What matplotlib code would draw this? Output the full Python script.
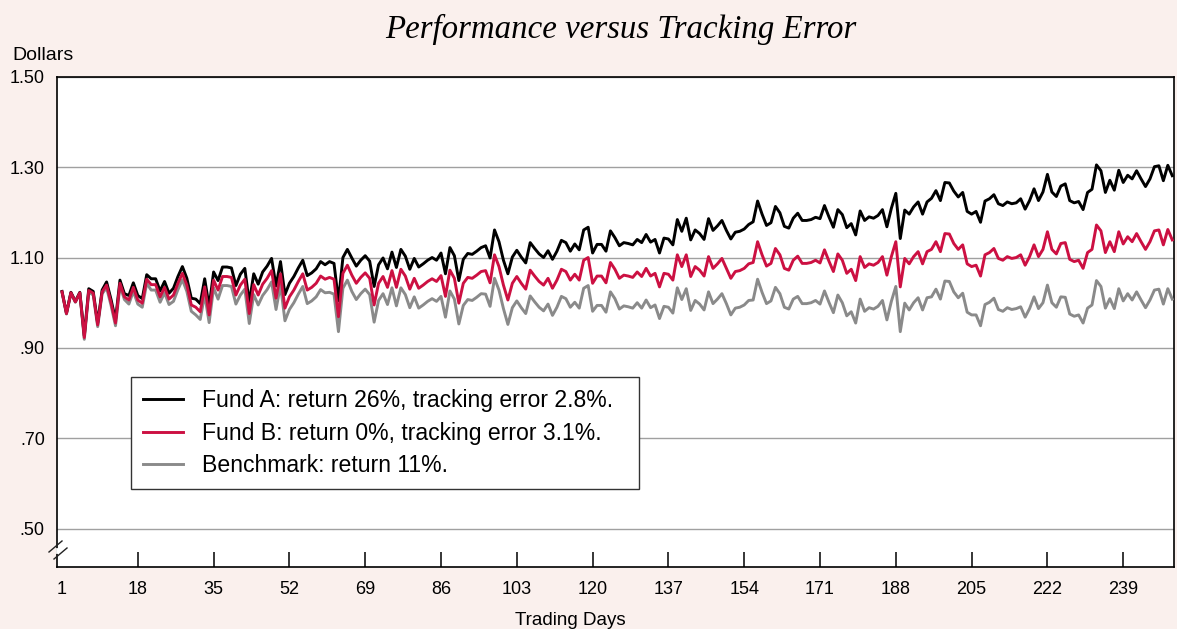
# plot.py - performance versus tracking error

import matplotlib
matplotlib.use('Agg')
import matplotlib.pyplot as plt
from matplotlib.lines import Line2D

days = list(range(1, 251))

fund_a = [
1.025, 0.977, 1.023, 1.003, 1.023, 0.927, 1.031, 1.025, 0.955, 1.028,
1.046, 1.007, 0.962, 1.050, 1.020, 1.016, 1.044, 1.016, 1.009, 1.062,
1.053, 1.053, 1.026, 1.047, 1.021, 1.032, 1.058, 1.080, 1.054, 1.010,
1.008, 0.998, 1.053, 0.991, 1.068, 1.049, 1.079, 1.079, 1.077, 1.038,
1.063, 1.076, 1.000, 1.064, 1.041, 1.068, 1.081, 1.098, 1.037, 1.091,
1.018, 1.043, 1.058, 1.077, 1.094, 1.060, 1.066, 1.075, 1.091, 1.084,
1.091, 1.087, 1.004, 1.100, 1.118, 1.099, 1.081, 1.094, 1.104, 1.092,
1.036, 1.084, 1.099, 1.075, 1.112, 1.078, 1.118, 1.103, 1.074, 1.098,
1.079, 1.086, 1.094, 1.100, 1.094, 1.110, 1.064, 1.122, 1.104, 1.049,
1.096, 1.109, 1.107, 1.114, 1.122, 1.126, 1.099, 1.161, 1.135, 1.094,
1.064, 1.101, 1.116, 1.101, 1.088, 1.133, 1.120, 1.108, 1.100, 1.115,
1.096, 1.114, 1.138, 1.133, 1.114, 1.130, 1.117, 1.161, 1.167, 1.110,
1.129, 1.129, 1.114, 1.159, 1.144, 1.126, 1.133, 1.131, 1.128, 1.140,
1.133, 1.151, 1.134, 1.140, 1.110, 1.143, 1.141, 1.128, 1.184, 1.158,
1.187, 1.139, 1.161, 1.153, 1.140, 1.186, 1.160, 1.170, 1.182, 1.160,
1.141, 1.156, 1.158, 1.163, 1.173, 1.179, 1.225, 1.196, 1.171, 1.177,
1.213, 1.199, 1.169, 1.165, 1.187, 1.198, 1.182, 1.182, 1.184, 1.189,
1.186, 1.215, 1.190, 1.167, 1.206, 1.195, 1.166, 1.175, 1.150, 1.203,
1.182, 1.190, 1.187, 1.193, 1.206, 1.168, 1.209, 1.242, 1.142, 1.205,
1.196, 1.212, 1.223, 1.196, 1.223, 1.231, 1.248, 1.226, 1.266, 1.265,
1.247, 1.234, 1.244, 1.202, 1.196, 1.202, 1.178, 1.225, 1.230, 1.239,
1.219, 1.215, 1.223, 1.219, 1.221, 1.230, 1.207, 1.226, 1.252, 1.226,
1.245, 1.284, 1.245, 1.235, 1.258, 1.263, 1.226, 1.221, 1.224, 1.206,
1.244, 1.251, 1.305, 1.292, 1.244, 1.271, 1.249, 1.293, 1.266, 1.282,
1.274, 1.292, 1.274, 1.257, 1.274, 1.301, 1.303, 1.270, 1.304, 1.281]

fund_b = [
1.024, 0.976, 1.022, 1.002, 1.022, 0.923, 1.027, 1.021, 0.951, 1.024,
1.039, 1.000, 0.955, 1.043, 1.013, 1.006, 1.034, 1.006, 0.999, 1.052,
1.040, 1.040, 1.013, 1.034, 1.008, 1.017, 1.043, 1.065, 1.039, 0.995,
0.990, 0.980, 1.035, 0.973, 1.050, 1.028, 1.058, 1.058, 1.056, 1.017,
1.039, 1.052, 0.976, 1.040, 1.017, 1.041, 1.054, 1.071, 1.010, 1.064,
0.988, 1.013, 1.028, 1.047, 1.064, 1.028, 1.034, 1.043, 1.059, 1.052,
1.056, 1.052, 0.969, 1.065, 1.083, 1.061, 1.043, 1.056, 1.066, 1.054,
0.995, 1.043, 1.058, 1.034, 1.071, 1.034, 1.074, 1.059, 1.030, 1.054,
1.032, 1.039, 1.047, 1.053, 1.047, 1.060, 1.014, 1.072, 1.054, 0.999,
1.043, 1.056, 1.054, 1.061, 1.069, 1.071, 1.044, 1.106, 1.080, 1.039,
1.006, 1.043, 1.058, 1.043, 1.030, 1.072, 1.059, 1.047, 1.039, 1.054,
1.032, 1.050, 1.074, 1.069, 1.050, 1.063, 1.050, 1.094, 1.100, 1.043,
1.059, 1.059, 1.044, 1.089, 1.074, 1.054, 1.061, 1.059, 1.056, 1.068,
1.058, 1.076, 1.059, 1.065, 1.035, 1.065, 1.063, 1.050, 1.106, 1.080,
1.106, 1.058, 1.080, 1.072, 1.059, 1.102, 1.076, 1.086, 1.098, 1.076,
1.054, 1.069, 1.071, 1.076, 1.086, 1.089, 1.135, 1.106, 1.081, 1.087,
1.120, 1.106, 1.076, 1.072, 1.094, 1.103, 1.087, 1.087, 1.089, 1.094,
1.088, 1.117, 1.092, 1.069, 1.108, 1.094, 1.065, 1.074, 1.049, 1.102,
1.078, 1.086, 1.083, 1.089, 1.102, 1.061, 1.102, 1.135, 1.035, 1.098,
1.086, 1.102, 1.113, 1.086, 1.113, 1.118, 1.135, 1.113, 1.153, 1.152,
1.131, 1.118, 1.128, 1.086, 1.080, 1.083, 1.059, 1.106, 1.111, 1.120,
1.098, 1.094, 1.102, 1.098, 1.100, 1.106, 1.083, 1.102, 1.128, 1.102,
1.118, 1.157, 1.118, 1.108, 1.131, 1.133, 1.096, 1.091, 1.094, 1.076,
1.111, 1.118, 1.172, 1.159, 1.111, 1.135, 1.113, 1.157, 1.130, 1.146,
1.135, 1.153, 1.135, 1.118, 1.135, 1.159, 1.161, 1.128, 1.162, 1.139]

benchmark = [
1.023, 0.975, 1.021, 1.001, 1.021, 0.919, 1.023, 1.017, 0.947, 1.020,
1.033, 0.994, 0.949, 1.037, 1.007, 0.997, 1.025, 0.997, 0.990, 1.043,
1.028, 1.028, 1.001, 1.022, 0.996, 1.003, 1.029, 1.051, 1.025, 0.981,
0.973, 0.963, 1.018, 0.956, 1.033, 1.008, 1.038, 1.038, 1.036, 0.997,
1.017, 1.030, 0.954, 1.018, 0.995, 1.016, 1.029, 1.046, 0.985, 1.039,
0.960, 0.985, 1.000, 1.019, 1.036, 0.998, 1.004, 1.013, 1.029, 1.022,
1.023, 1.019, 0.936, 1.032, 1.050, 1.025, 1.007, 1.020, 1.030, 1.018,
0.957, 1.005, 1.020, 0.996, 1.033, 0.993, 1.033, 1.018, 0.989, 1.013,
0.988, 0.995, 1.003, 1.009, 1.003, 1.014, 0.968, 1.026, 1.008, 0.953,
0.994, 1.007, 1.005, 1.012, 1.020, 1.019, 0.992, 1.054, 1.028, 0.987,
0.952, 0.989, 1.004, 0.989, 0.976, 1.015, 1.002, 0.990, 0.982, 0.997,
0.972, 0.990, 1.014, 1.009, 0.990, 1.001, 0.988, 1.032, 1.038, 0.981,
0.994, 0.994, 0.979, 1.024, 1.009, 0.986, 0.993, 0.991, 0.988, 1.000,
0.988, 1.006, 0.989, 0.995, 0.965, 0.992, 0.990, 0.977, 1.033, 1.007,
1.031, 0.983, 1.005, 0.997, 0.984, 1.024, 0.998, 1.008, 1.020, 0.998,
0.973, 0.988, 0.990, 0.995, 1.005, 1.006, 1.052, 1.023, 0.998, 1.004,
1.034, 1.020, 0.990, 0.986, 1.008, 1.014, 0.998, 0.998, 1.000, 1.005,
0.997, 1.026, 1.001, 0.978, 1.017, 1.000, 0.971, 0.980, 0.955, 1.008,
0.981, 0.989, 0.986, 0.992, 1.005, 0.962, 1.003, 1.036, 0.936, 0.999,
0.984, 1.000, 1.011, 0.984, 1.011, 1.013, 1.030, 1.008, 1.048, 1.047,
1.024, 1.011, 1.021, 0.979, 0.973, 0.973, 0.949, 0.996, 1.001, 1.010,
0.985, 0.981, 0.989, 0.985, 0.987, 0.991, 0.968, 0.987, 1.013, 0.987,
1.000, 1.039, 1.000, 0.990, 1.013, 1.012, 0.975, 0.970, 0.973, 0.955,
0.988, 0.995, 1.049, 1.036, 0.988, 1.009, 0.987, 1.031, 1.004, 1.020,
1.006, 1.024, 1.006, 0.989, 1.006, 1.028, 1.030, 0.997, 1.031, 1.008]

xticks = [1, 18, 35, 52, 69, 86, 103, 120, 137, 154, 171, 188, 205, 222, 239]
yticks = [0.50, 0.70, 0.90, 1.10, 1.30, 1.50]
ylabels = ['.50', '.70', '.90', '1.10', '1.30', '1.50']

labels = ['Fund A: return 26%, tracking error 2.8%.',
          'Fund B: return 0%, tracking error 3.1%.',
          'Benchmark: return 11%.']

bg = '#faf0ed'
red = '#cc1042'
grey = '#8a8a8a'

plt.rcParams['font.family'] = ['Liberation Sans', 'DejaVu Sans']

fig = plt.figure(figsize=(11.77, 6.29), dpi=100, facecolor=bg)
ax = fig.add_axes([0.0487, 0.0981, 0.9488, 0.7799])
ax.set_facecolor('white')

################
#   lines      #
################

lb, = ax.plot(days, benchmark, color=grey, lw=2.1, zorder=3)
la, = ax.plot(days, fund_a, color='black', lw=2.1, zorder=4)
lf, = ax.plot(days, fund_b, color=red, lw=2.1, zorder=5)

ax.set_xlim(-0.05, 250.4)
ax.set_ylim(0.4146, 1.50)

ax.set_yticks(yticks)
ax.set_yticklabels(ylabels)
ax.set_xticks(xticks)
ax.grid(axis='y', color='#a0a0a0', lw=1.0, zorder=1)
ax.tick_params(axis='y', length=0, pad=9, labelsize=13)
ax.tick_params(axis='x', direction='in', length=10.5, width=1.1, pad=10,
               labelsize=13)
ax.xaxis.get_major_ticks()[0].tick1line.set_visible(False)
for s in ax.spines.values():
    s.set_linewidth(1.2)

################
#   legend     #
################

leg = ax.legend([la, lf, lb], labels, loc='upper left',
                bbox_to_anchor=(0.066, 0.166, 0.455, 0.222), mode='expand',
                fontsize=16.6, handlelength=1.75, handletextpad=0.8,
                borderpad=0.52, labelspacing=0.42, borderaxespad=0,
                fancybox=False, framealpha=1)
leg.get_frame().set_edgecolor('#333333')
leg.get_frame().set_linewidth(1.0)

################
#   texts      #
################

fig.text(0.5276, 0.953, 'Performance versus Tracking Error', ha='center',
         va='center', family='Liberation Serif', style='italic', fontsize=23.7)
fig.text(12 / 1177, 1 - 55 / 629, 'Dollars', ha='left', va='center',
         fontsize=14)
fig.text(570 / 1177, 1 - 612 / 629, 'Trading Days', ha='center', va='top',
         fontsize=13.5)

# axis break marks on the left spine
for (x0, y0, x1, y1) in [(49, 552, 62, 541), (54, 559, 67, 548)]:
    fig.add_artist(Line2D([x0 / 1177, x1 / 1177], [1 - y0 / 629, 1 - y1 / 629],
                          color='#222222', lw=1.0))
fig.add_artist(Line2D([57.3 / 1177, 57.3 / 1177], [1 - 549 / 629, 1 - 552 / 629],
                      color='white', lw=2.0))

plt.savefig('out.png', dpi=100, facecolor=bg)
